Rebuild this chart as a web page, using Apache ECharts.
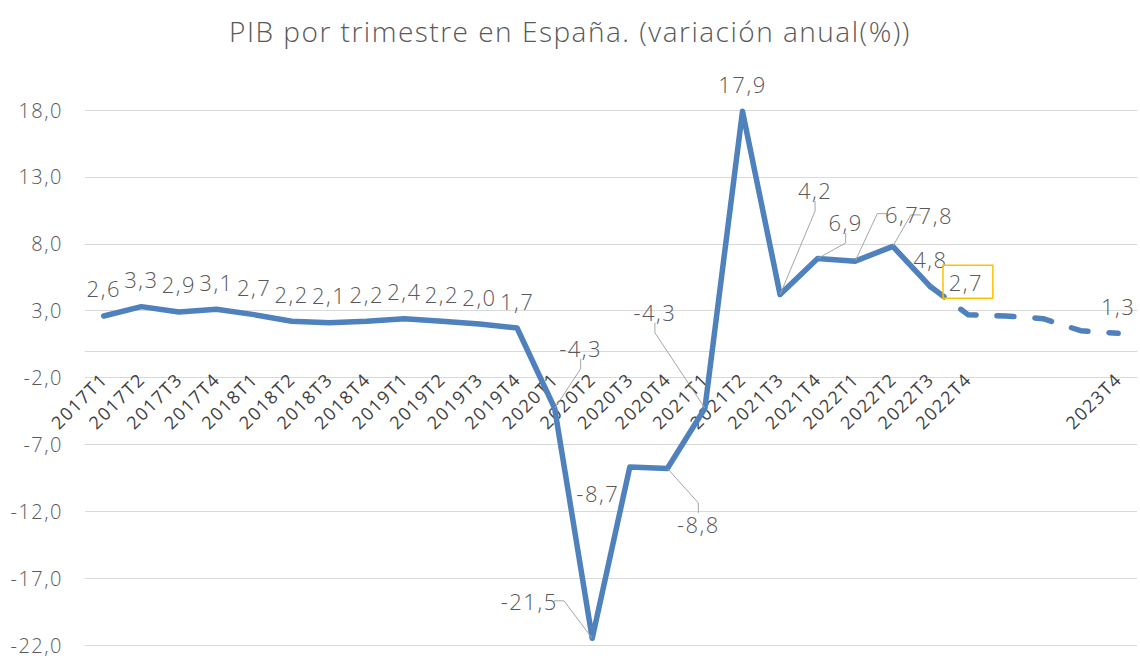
<!DOCTYPE html>
<html>
<head>
<meta charset="utf-8">
<title>PIB por trimestre en España</title>
<script src="https://cdn.jsdelivr.net/npm/echarts@6/dist/echarts.min.js"></script>
<style>
  html, body { margin: 0; padding: 0; background: #ffffff; }
  #chart { width: 1140px; height: 659px; }
  #chart text { letter-spacing: 1.5px; }
</style>
</head>
<body>
<div id="chart"></div>
<script>
// Quarters on the category axis
const quarters = [
  '2017T1', '2017T2', '2017T3', '2017T4',
  '2018T1', '2018T2', '2018T3', '2018T4',
  '2019T1', '2019T2', '2019T3', '2019T4',
  '2020T1', '2020T2', '2020T3', '2020T4',
  '2021T1', '2021T2', '2021T3', '2021T4',
  '2022T1', '2022T2', '2022T3', '2022T4',
  '2023T1', '2023T2', '2023T3', '2023T4'
];
// Quarters whose tick label is left blank
const unlabeledQuarters = ['2023T1', '2023T2', '2023T3'];

// Year-on-year GDP change (%), 2017T1 .. 2022T3
const gdp = [
  2.6, 3.3, 2.9, 3.1,
  2.7, 2.2, 2.1, 2.2,
  2.4, 2.2, 2.0, 1.7,
  -4.3, -21.5, -8.7, -8.8,
  -4.3, 17.9, 4.2, 6.9,
  6.7, 7.8, 4.8
];
// Estimate and projection, 2022T4 .. 2023T4
const projection = [2.7, 2.6, 2.4, 1.5, 1.3];
// Which projection points carry a value label
const projectionLabeled = [true, false, false, false, true];

// Value axis ticks
const yTicks = [-22, -17, -12, -7, -2, 3, 8, 13, 18];

// Label displacement (px) for crowded points, keyed by quarter index
const labelShift = {
  12: [26, -33],
  13: [-63, -10],
  14: [-32, 53],
  15: [31, 83],
  16: [-50, -69],
  18: [35, -77],
  19: [28, -9],
  20: [47, -20],
  21: [43, -4]
};
// Points whose displaced label is tied back with a leader line
const leaderLines = [12, 13, 15, 16, 18, 19, 20, 21];

const fmt = v => v.toFixed(1).replace('.', ',');
const BLUE = '#4f81bd';
const FONT = '"Open Sans"';

const leaderStyle = { show: true, lineStyle: { color: '#a6a6a6', width: 1 }, length2: 10 };

const solidData = quarters.map((q, i) => {
  if (i >= gdp.length) return null;
  const item = { value: gdp[i] };
  if (leaderLines.includes(i)) item.labelLine = leaderStyle;
  return item;
});

const lastIdx = gdp.length - 1;
const dashedData = quarters.map((q, i) => {
  if (i < lastIdx) return null;
  if (i === lastIdx) return { value: gdp[lastIdx], label: { show: false } };
  const k = i - lastIdx - 1;
  const item = { value: projection[k], label: { show: projectionLabeled[k] } };
  if (k === 0) {
    item.label.borderColor = '#ffc000';
    item.label.borderWidth = 1.5;
    item.label.padding = [6, 12, 5, 8];
  }
  return item;
});

const labelBase = {
  show: true,
  position: 'top',
  distance: 16,
  fontFamily: FONT,
  fontWeight: 300,
  fontSize: 22,
  color: '#595959',
  formatter: p => fmt(p.value)
};

const chart = echarts.init(document.getElementById('chart'), null, { renderer: 'svg' });

chart.setOption({
  backgroundColor: '#ffffff',
  animation: false,
  title: {
    text: 'PIB por trimestre en España. (variación anual(%))',
    left: 'center',
    top: 12,
    textStyle: { fontFamily: FONT, fontWeight: 300, fontSize: 28, color: '#595959' }
  },
  grid: { left: 85, right: 3, top: 110, bottom: 14, containLabel: false, outerBoundsMode: 'none' },
  xAxis: {
    type: 'category',
    data: quarters,
    boundaryGap: true,
    axisLine: { show: true, onZero: false, lineStyle: { color: '#d9d9d9', width: 1 } },
    axisTick: { show: false },
    splitLine: { show: false },
    axisLabel: {
      rotate: 45,
      margin: 25,
      interval: (idx, name) => !unlabeledQuarters.includes(name),
      hideOverlap: false,
      fontFamily: FONT,
      fontSize: 18,
      color: '#404040'
    }
  },
  yAxis: {
    type: 'value',
    min: yTicks[0],
    max: yTicks[yTicks.length - 1],
    interval: yTicks[1] - yTicks[0],
    axisLine: { show: false },
    axisTick: { show: false },
    splitLine: { show: true, lineStyle: { color: '#d9d9d9', width: 1 } },
    axisLabel: {
      margin: 22,
      lineHeight: 16,
      fontFamily: FONT,
      fontWeight: 300,
      fontSize: 20,
      color: '#595959',
      formatter: v => fmt(v)
    }
  },
  series: [
    {
      name: 'PIB',
      type: 'line',
      data: solidData,
      symbol: 'circle',
      symbolSize: 1,
      itemStyle: { color: BLUE },
      lineStyle: { color: BLUE, width: 5.5, cap: 'round', join: 'round' },
      label: labelBase,
      labelLayout: p => {
        const s = labelShift[p.dataIndex];
        return s ? { dx: s[0], dy: s[1] } : {};
      },
      z: 3
    },
    {
      name: 'Previsión',
      type: 'line',
      data: dashedData,
      symbol: 'circle',
      symbolSize: 1,
      itemStyle: { color: BLUE },
      lineStyle: { color: BLUE, width: 5.5, type: [17, 21], cap: 'round', join: 'round' },
      label: Object.assign({}, labelBase, { show: false }),
      z: 3
    }
  ]
});

// Move the category axis (line and labels) up to the zero of the value axis
const zeroY = chart.convertToPixel({ yAxisIndex: 0 }, 0);
const floorY = chart.convertToPixel({ yAxisIndex: 0 }, yTicks[0]);
chart.setOption({ xAxis: { offset: zeroY - floorY } });
</script>
</body>
</html>
